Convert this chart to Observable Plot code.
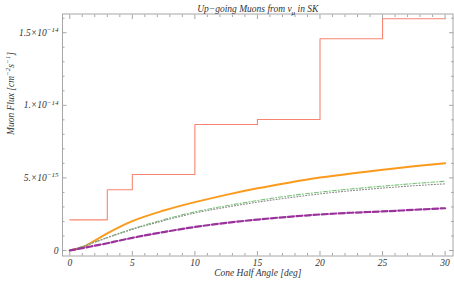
<!DOCTYPE html>
<html><head><meta charset="utf-8">
<script src="https://cdn.jsdelivr.net/npm/d3@7"></script>
<script src="https://cdn.jsdelivr.net/npm/@observablehq/plot@0.6"></script>
<style>
body{margin:0;background:#fff;}
#chart svg{display:block;}
</style>
</head><body><div id="chart"></div>
<script>
// Fluxes in units of 1e-15 cm^-2 s^-1
const angles = [0,1,2,3,4,5,7.5,10,12.5,15,17.5,20,22.5,25,27.5,30];
const orange = [0,0.22,0.68,1.18,1.63,2.02,2.75,3.33,3.83,4.28,4.67,5.02,5.31,5.56,5.8,6.01];
const green  = [0,0.27,0.58,0.9,1.2,1.49,2.12,2.66,3.08,3.44,3.76,4.02,4.24,4.43,4.61,4.77];
const grey   = [0,0.27,0.57,0.88,1.17,1.45,2.05,2.58,2.98,3.33,3.63,3.9,4.12,4.3,4.46,4.59];
const purple = [0,0.16,0.33,0.5,0.69,0.87,1.27,1.62,1.9,2.13,2.32,2.48,2.6,2.69,2.8,2.91];
const stepEdges = [0,3,5,10,15,20,25,30];
const stepValues = [2.11,4.18,5.23,8.68,9.02,14.58,15.96];
const xMajor = [0,5,10,15,20,25,30];
const xMinor = d3.range(0,31,1).filter(d=>d%5!==0);
const yMajor = [0,5,10,15];
const yMajorLabels = ["0","5.\u00d710^{\u221215}","1.\u00d710^{\u221214}","1.5\u00d710^{\u221214}"];
const yMinor = d3.range(0,17,1).filter(d=>d%5!==0);
const title = "Up\u2212going Muons from \u03bd_{\u03bc} in SK";
const xLabel = "Cone Half Angle [deg]";
const yLabel = "Muon Flux [cm^{\u22122}s^{\u22121}]";

const curve = (vals)=>angles.map((a,i)=>({x:a,y:vals[i]}));
const stepData = stepEdges.map((e,i)=>({x:e,y:stepValues[Math.min(i,stepValues.length-1)]}));

const font = "'Liberation Serif','Times New Roman',serif";
const frameCol = "#a6a6a6";
const txtCol = "#333";

const plot = Plot.plot({
  width:454, height:281,
  marginLeft:62, marginRight:1.5, marginTop:13.5, marginBottom:25.5,
  style:{fontFamily:font, fontStyle:"italic", fontSize:"9.5px", color:txtCol, background:"#fff"},
  x:{domain:[-0.58,30.63]},
  y:{domain:[-0.38,16.29]},
  marks:[
    Plot.line(stepData,{x:"x",y:"y",curve:"step-after",stroke:"#f8856f",strokeWidth:1.1}),
    Plot.line(curve(orange),{x:"x",y:"y",curve:"monotone-x",stroke:"#fb9a1c",strokeWidth:2}),
    Plot.line(curve(green),{x:"x",y:"y",curve:"monotone-x",stroke:"#7dc47a",strokeWidth:1.1,strokeDasharray:"4,2,1,2"}),
    Plot.line(curve(grey),{x:"x",y:"y",curve:"monotone-x",stroke:"#8a8a8a",strokeWidth:1.1,strokeDasharray:"1,2"}),
    Plot.line(curve(purple),{x:"x",y:"y",curve:"monotone-x",stroke:"#9a329c",strokeWidth:2.2,strokeDasharray:"6,2.5"}),
    Plot.frame({stroke:frameCol}),
    // ticks (inward)
    Plot.axisX(xMajor,{anchor:"bottom",tickSize:-4.5,tickFormat:()=>"",stroke:frameCol,label:null}),
    Plot.axisX(xMinor,{anchor:"bottom",tickSize:-2.5,tickFormat:()=>"",stroke:frameCol,label:null}),
    Plot.axisX(xMajor,{anchor:"top",tickSize:-4.5,tickFormat:()=>"",stroke:frameCol,label:null}),
    Plot.axisX(xMinor,{anchor:"top",tickSize:-2.5,tickFormat:()=>"",stroke:frameCol,label:null}),
    Plot.axisY(yMajor,{anchor:"left",tickSize:-4.5,tickFormat:()=>"",stroke:frameCol,label:null}),
    Plot.axisY(yMinor,{anchor:"left",tickSize:-2.5,tickFormat:()=>"",stroke:frameCol,label:null}),
    Plot.axisY(yMajor,{anchor:"right",tickSize:-4.5,tickFormat:()=>"",stroke:frameCol,label:null}),
    Plot.axisY(yMinor,{anchor:"right",tickSize:-2.5,tickFormat:()=>"",stroke:frameCol,label:null}),
    // labels
    Plot.axisX(xMajor,{anchor:"bottom",tickSize:0,tickPadding:3,tickFormat:d=>String(d),label:null,fill:txtCol,fontStyle:"italic",fontSize:9.5}),
    Plot.axisY(yMajor,{anchor:"left",tickSize:0,tickPadding:4,tickFormat:(d)=>yMajorLabels[yMajor.indexOf(d)],label:null,fill:txtCol,fontStyle:"italic",fontSize:9.5}),
    Plot.text([title],{frameAnchor:"top",dy:-8.5,fill:txtCol,fontSize:9.5}),
    Plot.text([xLabel],{frameAnchor:"bottom",dy:20,fill:txtCol,fontSize:9.5}),
    Plot.text([yLabel],{frameAnchor:"left",rotate:-90,dx:-52,fill:txtCol,fontSize:9.5})
  ]
});

// rich text: ^{...} superscripts, _{...} subscripts
function richify(svg){
  svg.querySelectorAll("text").forEach(t=>{
    const s=t.textContent;
    if(!/[\^_]\{/.test(s)) return;
    while(t.firstChild) t.removeChild(t.firstChild);
    const re=/([\^_])\{([^}]*)\}/g;
    let last=0,m,cur=0;
    const add=(txt,target,size)=>{
      const ts=document.createElementNS("http://www.w3.org/2000/svg","tspan");
      ts.textContent=txt;
      const dy=target-cur; if(dy) ts.setAttribute("dy",dy);
      cur=target;
      if(size) ts.setAttribute("font-size",size);
      t.appendChild(ts);
    };
    while((m=re.exec(s))){
      if(m.index>last) add(s.slice(last,m.index),0);
      add(m[2], m[1]==="^"?-3.5:2.5, "7px");
      last=re.lastIndex;
    }
    if(last<s.length) add(s.slice(last),0);
  });
}
richify(plot);
document.getElementById("chart").appendChild(plot);
</script>
</body></html>
